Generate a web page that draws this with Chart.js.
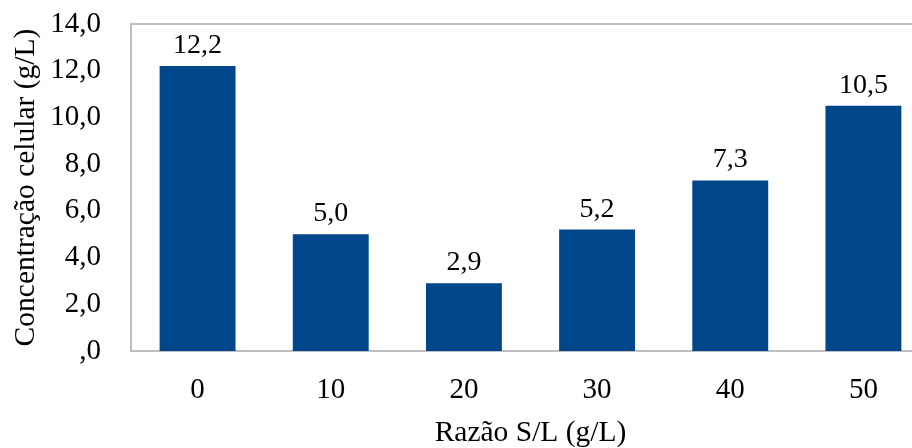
<!DOCTYPE html>
<html>
<head>
<meta charset="utf-8">
<script src="https://cdn.jsdelivr.net/npm/chart.js@4/dist/chart.umd.min.js"></script>
<style>
  html, body { margin: 0; padding: 0; background: #fff; overflow: hidden; }
  #wrap { width: 950px; height: 448px; }
</style>
</head>
<body>
<div id="wrap"><canvas id="c" width="950" height="448"></canvas></div>
<script>
// S/L ratio categories and measured cell concentration
const categories = ['0', '10', '20', '30', '40', '50'];
const concentration = [12.2, 5.0, 2.9, 5.2, 7.3, 10.5];
const yTickLabels = [',0', '2,0', '4,0', '6,0', '8,0', '10,0', '12,0', '14,0'];

const FONT = 'Liberation Serif, "Times New Roman", serif';
const TITLE_SIZE = 29.5;
const TICK_SIZE = 29;
const LABEL_SIZE = 28;
const BAR_COLOR = '#00468A';
const FRAME_COLOR = '#BFBFBF';

const fmt = v => v.toFixed(1).replace('.', ',');

// Grey frame around the plot area (top, left, bottom)
const framePlugin = {
  id: 'frame',
  beforeDatasetsDraw(chart) {
    const {ctx, chartArea: a} = chart;
    ctx.save();
    ctx.strokeStyle = FRAME_COLOR;
    ctx.lineWidth = 2;
    ctx.beginPath();
    ctx.moveTo(a.right + 10, a.top);
    ctx.lineTo(a.left, a.top);
    ctx.lineTo(a.left, a.bottom);
    ctx.lineTo(a.right + 10, a.bottom);
    ctx.stroke();
    ctx.restore();
  }
};

// Value labels above each bar
const valueLabels = {
  id: 'valueLabels',
  afterDatasetsDraw(chart) {
    const {ctx} = chart;
    const meta = chart.getDatasetMeta(0);
    ctx.save();
    ctx.fillStyle = '#000';
    ctx.font = LABEL_SIZE + 'px ' + FONT;
    ctx.textAlign = 'center';
    ctx.textBaseline = 'alphabetic';
    meta.data.forEach((bar, i) => {
      ctx.fillText(fmt(chart.data.datasets[0].data[i]), bar.x, bar.y - 13);
    });
    ctx.restore();
  }
};

new Chart(document.getElementById('c'), {
  type: 'bar',
  data: {
    labels: categories,
    datasets: [{
      data: concentration,
      backgroundColor: BAR_COLOR,
      borderWidth: 0,
      barPercentage: 1,
      categoryPercentage: 0.57
    }]
  },
  options: {
    responsive: false,
    animation: false,
    events: [],
    layout: { padding: { top: 24, right: 20, left: 0, bottom: 0 } },
    plugins: { legend: { display: false }, tooltip: { enabled: false } },
    scales: {
      x: {
        grid: { display: false, drawTicks: false },
        border: { display: false },
        ticks: { color: '#000', font: { family: FONT, size: TICK_SIZE }, padding: 22 },
        title: {
          display: true,
          text: 'Razão S/L (g/L)',
          color: '#000',
          font: { family: FONT, size: TITLE_SIZE, lineHeight: 1 },
          padding: { top: 0, bottom: 0 }
        },
        afterFit(scale) {
          scale.height = 97;
          scale.paddingLeft = 0;
          scale.paddingRight = 0;
        }
      },
      y: {
        min: 0,
        max: 14,
        grid: { display: false, drawTicks: false },
        border: { display: false },
        ticks: {
          stepSize: 2,
          color: '#000',
          font: { family: FONT, size: TICK_SIZE },
          padding: 30,
          callback: (v) => yTickLabels[Math.round(v / 2)]
        },
        title: {
          display: true,
          text: 'Concentração celular (g/L)',
          color: '#000',
          font: { family: FONT, size: TITLE_SIZE, lineHeight: 1 },
          padding: { top: 11, bottom: 0 }
        },
        afterFit(scale) {
          scale.width = 131;
          scale.paddingTop = 0;
          scale.paddingBottom = 0;
        }
      }
    }
  },
  plugins: [framePlugin, valueLabels]
});
</script>
</body>
</html>
